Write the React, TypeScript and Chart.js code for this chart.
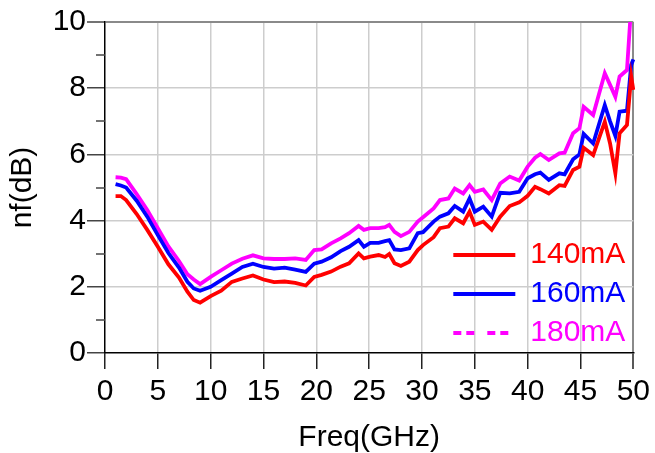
import React, { useEffect, useRef } from "react";
import { Chart, registerables } from "chart.js";

Chart.register(...registerables);

// Frequency points (GHz)
const freqGHz = [
  1, 1.5, 2, 3, 4, 5, 6, 7, 7.8, 8.4, 9, 10, 11, 12, 13, 14, 15, 16, 17, 18, 19,
  19.8, 20.5, 21.4, 22.3, 23.1, 24, 24.5, 25.1, 25.9, 26.5, 26.9, 27.4, 28, 28.8,
  29.6, 30.1, 31.1, 31.7, 32.5, 33.1, 33.9, 34.5, 35, 35.8, 36.6, 37.4, 38.3, 39.2,
  40, 40.7, 41.2, 42, 43, 43.5, 44.3, 44.9, 45.3, 46.2, 47.3, 47.8, 48.3, 48.7,
  49.4, 49.8, 50,
];

// Noise figure (dB), 140 mA
const nf140mA = [
  4.74, 4.74, 4.62, 4.2, 3.72, 3.21, 2.68, 2.28, 1.85, 1.6, 1.52, 1.72, 1.88, 2.15,
  2.25, 2.34, 2.22, 2.14, 2.16, 2.12, 2.04, 2.3, 2.36, 2.46, 2.61, 2.71, 3.01, 2.86,
  2.91, 2.96, 2.9, 2.99, 2.71, 2.63, 2.76, 3.11, 3.26, 3.5, 3.77, 3.82, 4.07, 3.92,
  4.27, 3.87, 3.97, 3.72, 4.12, 4.44, 4.55, 4.75, 5.02, 4.95, 4.82, 5.07, 5.05, 5.53,
  5.63, 6.2, 5.98, 6.99, 6.33, 5.43, 6.64, 6.89, 8.35, 7.95,
];

// Noise figure (dB), 160 mA
const nf160mA = [
  5.1, 5.06, 5.0, 4.6, 4.12, 3.56, 3.02, 2.58, 2.15, 1.95, 1.88, 2.0, 2.2, 2.4, 2.6,
  2.7, 2.6, 2.55, 2.58, 2.52, 2.45, 2.7, 2.76, 2.89, 3.08, 3.21, 3.41, 3.21, 3.33,
  3.33, 3.38, 3.41, 3.13, 3.11, 3.16, 3.62, 3.65, 3.97, 4.12, 4.22, 4.44, 4.27, 4.67,
  4.27, 4.42, 4.12, 4.84, 4.82, 4.87, 5.28, 5.4, 5.45, 5.23, 5.43, 5.4, 5.85, 6.0,
  6.62, 6.33, 7.49, 7.0, 6.56, 7.29, 7.32, 8.7, 8.87,
];

// Noise figure (dB), 180 mA
const nf180mA = [
  5.31, 5.3, 5.25, 4.8, 4.32, 3.77, 3.22, 2.78, 2.38, 2.22, 2.08, 2.3, 2.5, 2.7,
  2.85, 2.95, 2.86, 2.84, 2.84, 2.86, 2.81, 3.11, 3.13, 3.31, 3.46, 3.62, 3.84, 3.72,
  3.77, 3.77, 3.8, 3.87, 3.66, 3.53, 3.66, 3.97, 4.1, 4.37, 4.62, 4.67, 4.97, 4.82,
  5.07, 4.87, 4.94, 4.62, 5.12, 5.33, 5.21, 5.63, 5.9, 6.01, 5.83, 6.03, 6.05, 6.64,
  6.79, 7.44, 7.19, 8.45, 8.1, 7.74, 8.35, 8.55, 10.5, 10.8,
];

const seriesLabels = ["140mA", "160mA", "180mA"];
const seriesColors = ["#ff0000", "#0000ff", "#ff00ff"];
const legendDashes: number[][] = [[], [], [8, 5, 8, 13]];

const xTickStep = 5;
const yTickStep = 2;
const minorYTicks = [1, 3, 5, 7, 9];

const FONT = "'Liberation Sans', Arial, Helvetica, sans-serif";
const FS = 30;

export default function App() {
  const canvasRef = useRef<HTMLCanvasElement | null>(null);

  useEffect(() => {
    const canvas = canvasRef.current;
    if (!canvas) return;

    const seriesValues = [nf140mA, nf160mA, nf180mA];
    const datasets = seriesValues.map((vals, i) => ({
      label: seriesLabels[i],
      data: freqGHz.map((f, j) => ({ x: f, y: vals[j] })),
      borderColor: seriesColors[i],
      backgroundColor: seriesColors[i],
      borderWidth: 3.8,
      pointRadius: 0,
      tension: 0,
      fill: false,
      clip: { left: 2, right: 2, top: 0, bottom: 2 },
    }));

    const minorTickPlugin = {
      id: "minorTicks",
      afterDraw(chart: any) {
        const ys = chart.scales.y;
        const ctx = chart.ctx;
        ctx.save();
        ctx.strokeStyle = "#444444";
        ctx.lineWidth = 1.5;
        minorYTicks.forEach((v) => {
          const py = Math.round(ys.getPixelForValue(v));
          ctx.beginPath();
          ctx.moveTo(ys.right - 9, py);
          ctx.lineTo(ys.right, py);
          ctx.stroke();
        });
        ctx.restore();
      },
    };

    const legendPlacePlugin = {
      id: "legendPlace",
      afterLayout(chart: any) {
        const lg = chart.legend;
        const a = chart.chartArea;
        if (!lg) return;
        lg.left = a.right - 189;
        lg.right = lg.left + lg.width + 40;
        lg.top = a.bottom - 122;
        lg.bottom = lg.top + 400;
      },
    };

    const gridColor = (last: number) => (ctx: any) => {
      const v = ctx.tick ? ctx.tick.value : NaN;
      if (v === last) return "#8a8a8a";
      if (v === 0) return "rgba(0,0,0,0)";
      return "#cdcdcd";
    };
    const gridWidth = (last: number) => (ctx: any) =>
      ctx.tick && ctx.tick.value === last ? 2 : 1.5;

    const chart = new Chart(canvas, {
      type: "line",
      data: { datasets },
      plugins: [minorTickPlugin, legendPlacePlugin],
      options: {
        animation: false,
        responsive: false,
        maintainAspectRatio: false,
        layout: { padding: { left: 0, right: 19, top: 22, bottom: 0 } },
        plugins: {
          tooltip: { enabled: false },
          legend: {
            display: true,
            position: "chartArea" as any,
            align: "start",
            labels: {
              usePointStyle: true,
              pointStyleWidth: 62,
              padding: 9,
              font: { size: FS, family: FONT },
              generateLabels: (ch: any) =>
                ch.data.datasets.map((ds: any, i: number) => ({
                  text: ds.label,
                  fillStyle: ds.borderColor,
                  strokeStyle: ds.borderColor,
                  fontColor: ds.borderColor,
                  lineWidth: 4,
                  lineDash: legendDashes[i],
                  lineCap: "butt",
                  pointStyle: "line",
                  hidden: false,
                  datasetIndex: i,
                })),
            },
          },
        },
        scales: {
          x: {
            type: "linear",
            min: 0,
            max: 50,
            ticks: {
              stepSize: xTickStep,
              color: "#000",
              font: { size: FS, family: FONT },
              padding: 5,
              maxRotation: 0,
              autoSkip: false,
            },
            grid: {
              color: gridColor(50),
              lineWidth: gridWidth(50),
              tickColor: "#222",
              tickLength: 16,
              tickWidth: 1.5,
            },
            border: { display: true, color: "#000", width: 1.5 },
            title: {
              display: true,
              text: "Freq(GHz)",
              color: "#000",
              font: { size: FS, family: FONT, lineHeight: 1 },
              padding: 0,
            },
            afterFit: (s: any) => {
              s.height = 100;
            },
          },
          y: {
            type: "linear",
            min: 0,
            max: 10,
            ticks: {
              stepSize: yTickStep,
              color: "#000",
              font: { size: FS, family: FONT },
              padding: 1,
            },
            grid: {
              color: gridColor(10),
              lineWidth: gridWidth(10),
              tickColor: "#444",
              tickLength: 18,
              tickWidth: 1.5,
            },
            border: { display: true, color: "#000", width: 1.5 },
            title: {
              display: true,
              text: "nf(dB)",
              color: "#000",
              font: { size: FS, family: FONT, lineHeight: 1 },
              padding: { top: 8, bottom: 0 },
            },
            afterFit: (s: any) => {
              s.width = 105;
            },
          },
        },
      },
    } as any);

    return () => {
      chart.destroy();
    };
  }, []);

  return (
    <div
      style={{
        position: "absolute",
        left: 0,
        top: 0,
        width: 655,
        height: 453,
        background: "#fff",
      }}
    >
      <canvas
        ref={canvasRef}
        width={655}
        height={453}
        style={{ display: "block", width: 655, height: 453 }}
      />
    </div>
  );
}
